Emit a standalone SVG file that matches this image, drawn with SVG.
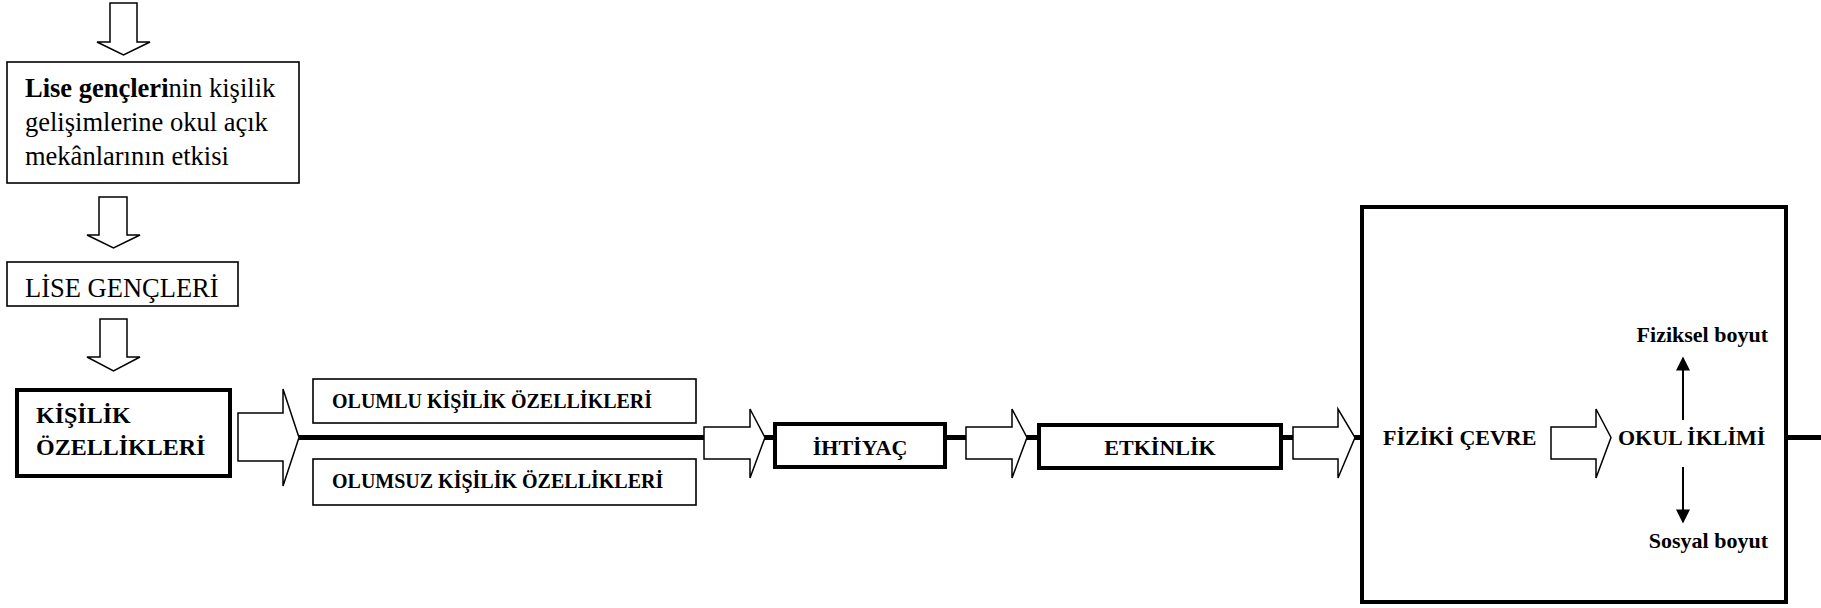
<svg xmlns="http://www.w3.org/2000/svg" width="1821" height="608" viewBox="0 0 1821 608">
<defs>
<style>
.t{font-family:"Liberation Serif","Times New Roman",serif;fill:#000}
.b{font-weight:bold}
.thin{fill:#fff;stroke:#000;stroke-width:1.6}
.thick{fill:#fff;stroke:#000;stroke-width:4}
.frame{fill:none;stroke:#000;stroke-width:4}
.blk{fill:#fff;stroke:#000;stroke-width:1.5;stroke-linejoin:miter}
.conn{stroke:#000;stroke-width:5;fill:none}
.ln{stroke:#000;stroke-width:2;fill:none}
</style>
<marker id="ah" viewBox="0 0 10 10" refX="9" refY="5" markerWidth="7.5" markerHeight="7" orient="auto" markerUnits="strokeWidth">
<path d="M0,0 L10,5 L0,10 Z" fill="#000"/>
</marker>
</defs>
<rect width="1821" height="608" fill="#fff"/>
<g id="connectors">
<line class="conn" x1="299" y1="437.5" x2="705" y2="437.5"/>
<line class="conn" x1="764" y1="437.5" x2="775" y2="437.5"/>
<line class="conn" x1="945" y1="437.5" x2="967" y2="437.5"/>
<line class="conn" x1="1026" y1="437.5" x2="1039" y2="437.5"/>
<line class="conn" x1="1281" y1="437.5" x2="1294" y2="437.5"/>
<line class="conn" x1="1354" y1="437.5" x2="1362" y2="437.5"/>
<line class="conn" x1="1786" y1="437.5" x2="1821" y2="437.5"/>
<polygon class="blk" points="110,3 137,3 137,42 150,42 123.5,55 97,42 110,42"/>
<polygon class="blk" points="99,197 127,197 127,235 140,235 113.5,248 87,235 99,235"/>
<polygon class="blk" points="100,319 127,319 127,357 140,357 113.5,371 87,357 100,357"/>
<polygon class="blk" points="238,413 283,413 283,389 299,437.5 283,486 283,461 238,461"/>
<polygon class="blk" points="704,427 750,427 750,409 765,437.5 750,478 750,459 704,459"/>
<polygon class="blk" points="966,427 1012,427 1012,409 1027,437.5 1012,478 1012,459 966,459"/>
<polygon class="blk" points="1293,427 1338,427 1338,409 1355,437.5 1338,478 1338,459 1293,459"/>
<polygon class="blk" points="1551,427 1596,427 1596,409 1611,437.5 1596,478 1596,459 1551,459"/>
<line class="ln" x1="1683" y1="420" x2="1683" y2="358" marker-end="url(#ah)"/>
<line class="ln" x1="1683" y1="467" x2="1683" y2="522" marker-end="url(#ah)"/>
</g>
<g id="node-etki">
<rect class="thin" x="7" y="62" width="292" height="121"/>
<text class="t" font-size="26.5" x="25" y="97"><tspan class="b">Lise gençleri</tspan>nin kişilik</text>
<text class="t" font-size="26.5" x="25" y="131">gelişimlerine okul açık</text>
<text class="t" font-size="26.5" x="25" y="165">mekânlarının etkisi</text>
</g>
<g id="node-lise">
<rect class="thin" x="7" y="262" width="231" height="44"/>
<text class="t" font-size="26.5" x="25" y="297">LİSE GENÇLERİ</text>
</g>
<g id="node-kisilik">
<rect class="thick" x="17" y="390" width="213" height="86"/>
<text class="t b" font-size="24" x="36" y="423">KİŞİLİK</text>
<text class="t b" font-size="24" x="36" y="455">ÖZELLİKLERİ</text>
</g>
<g id="node-olumlu">
<rect class="thin" x="313" y="379" width="383" height="44"/>
<text class="t b" font-size="20" x="332" y="408">OLUMLU KİŞİLİK ÖZELLİKLERİ</text>
</g>
<g id="node-olumsuz">
<rect class="thin" x="313" y="459" width="383" height="46"/>
<text class="t b" font-size="20" x="332" y="488">OLUMSUZ KİŞİLİK ÖZELLİKLERİ</text>
</g>
<g id="node-ihtiyac">
<rect class="thick" x="775" y="424" width="170" height="43"/>
<text class="t b" font-size="22" x="860" y="455" text-anchor="middle">İHTİYAÇ</text>
</g>
<g id="node-etkinlik">
<rect class="thick" x="1039" y="425" width="242" height="43"/>
<text class="t b" font-size="22" x="1160" y="455" text-anchor="middle">ETKİNLİK</text>
</g>
<g id="node-cevre">
<rect class="frame" x="1362" y="207" width="424" height="395"/>
<text class="t b" font-size="22" x="1383" y="445">FİZİKİ ÇEVRE</text>
<text class="t b" font-size="22" x="1618" y="445">OKUL İKLİMİ</text>
<text class="t b" font-size="22" x="1768" y="342" text-anchor="end">Fiziksel boyut</text>
<text class="t b" font-size="22" x="1768" y="548" text-anchor="end">Sosyal boyut</text>
</g>
</svg>
